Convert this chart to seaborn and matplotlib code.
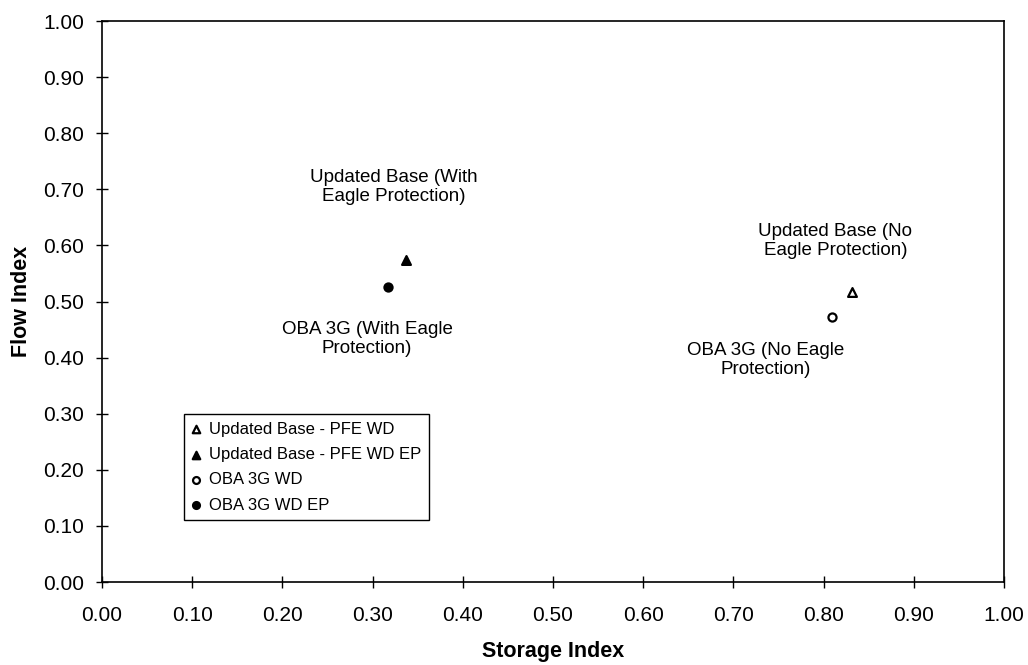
import matplotlib
matplotlib.use("Agg")
import matplotlib.pyplot as plt
import seaborn as sns
import pandas as pd

series = ["Updated Base - PFE WD", "Updated Base - PFE WD EP", "OBA 3G WD", "OBA 3G WD EP"]
storage = [0.831, 0.337, 0.809, 0.317]
flow = [0.517, 0.574, 0.472, 0.526]
markers = ["^", "^", "o", "o"]
filled = [False, True, False, True]

labels = ["Updated Base (With\nEagle Protection)", "OBA 3G (With Eagle\nProtection)",
          "Updated Base (No\nEagle Protection)", "OBA 3G (No Eagle\nProtection)"]
label_x = [0.323, 0.294, 0.813, 0.736]
label_y = [0.704, 0.433, 0.608, 0.396]

ticks = [i / 10 for i in range(11)]

sns.set_style("white")
plt.rcParams["font.family"] = ["Liberation Sans", "DejaVu Sans"]
plt.rcParams["text.color"] = "black"
plt.rcParams["axes.labelcolor"] = "black"
plt.rcParams["xtick.color"] = "black"
plt.rcParams["ytick.color"] = "black"

df = pd.DataFrame({"series": series, "storage": storage, "flow": flow})

fig = plt.figure(figsize=(10.28, 6.65), dpi=100)
ax = fig.add_axes([0.0992, 0.1248, 0.8775, 0.8436])

for i in range(len(series)):
    sub = df[df["series"] == series[i]]
    sns.scatterplot(data=sub, x="storage", y="flow", ax=ax, marker=markers[i],
                    s=40 if markers[i] == "^" else 34,
                    facecolor="black" if filled[i] else "white",
                    edgecolor="black", linewidth=1.6, label=series[i])

for t, x, y in zip(labels, label_x, label_y):
    ax.text(x, y, t, ha="center", va="center", fontsize=13.5, linespacing=1.2)

ax.set_xlim(0, 1)
ax.set_ylim(0, 1)
ax.set_xticks(ticks)
ax.set_yticks(ticks)
ax.set_xticklabels([f"{t:.2f}" for t in ticks])
ax.set_yticklabels([f"{t:.2f}" for t in ticks])
ax.tick_params(axis="both", direction="inout", length=8, width=1, labelsize=15,
               bottom=True, left=True, pad=9)
ax.tick_params(axis="x", pad=13)
for sp in ax.spines.values():
    sp.set_color("black")
    sp.set_linewidth(1.2)

ax.set_xlabel("Storage Index", fontsize=15.5, fontweight="bold", labelpad=12)
ax.set_ylabel("Flow Index", fontsize=15.5, fontweight="bold", labelpad=8)

leg = ax.legend(loc="upper left", bbox_to_anchor=(0.091, 0.30), fontsize=12,
                frameon=True, fancybox=False, edgecolor="black", framealpha=1,
                handlelength=0.5, handletextpad=0.5, borderpad=0.47,
                labelspacing=0.62, markerscale=0.85, borderaxespad=0)
leg.get_frame().set_linewidth(1.0)

fig.savefig("out.png", dpi=100)
